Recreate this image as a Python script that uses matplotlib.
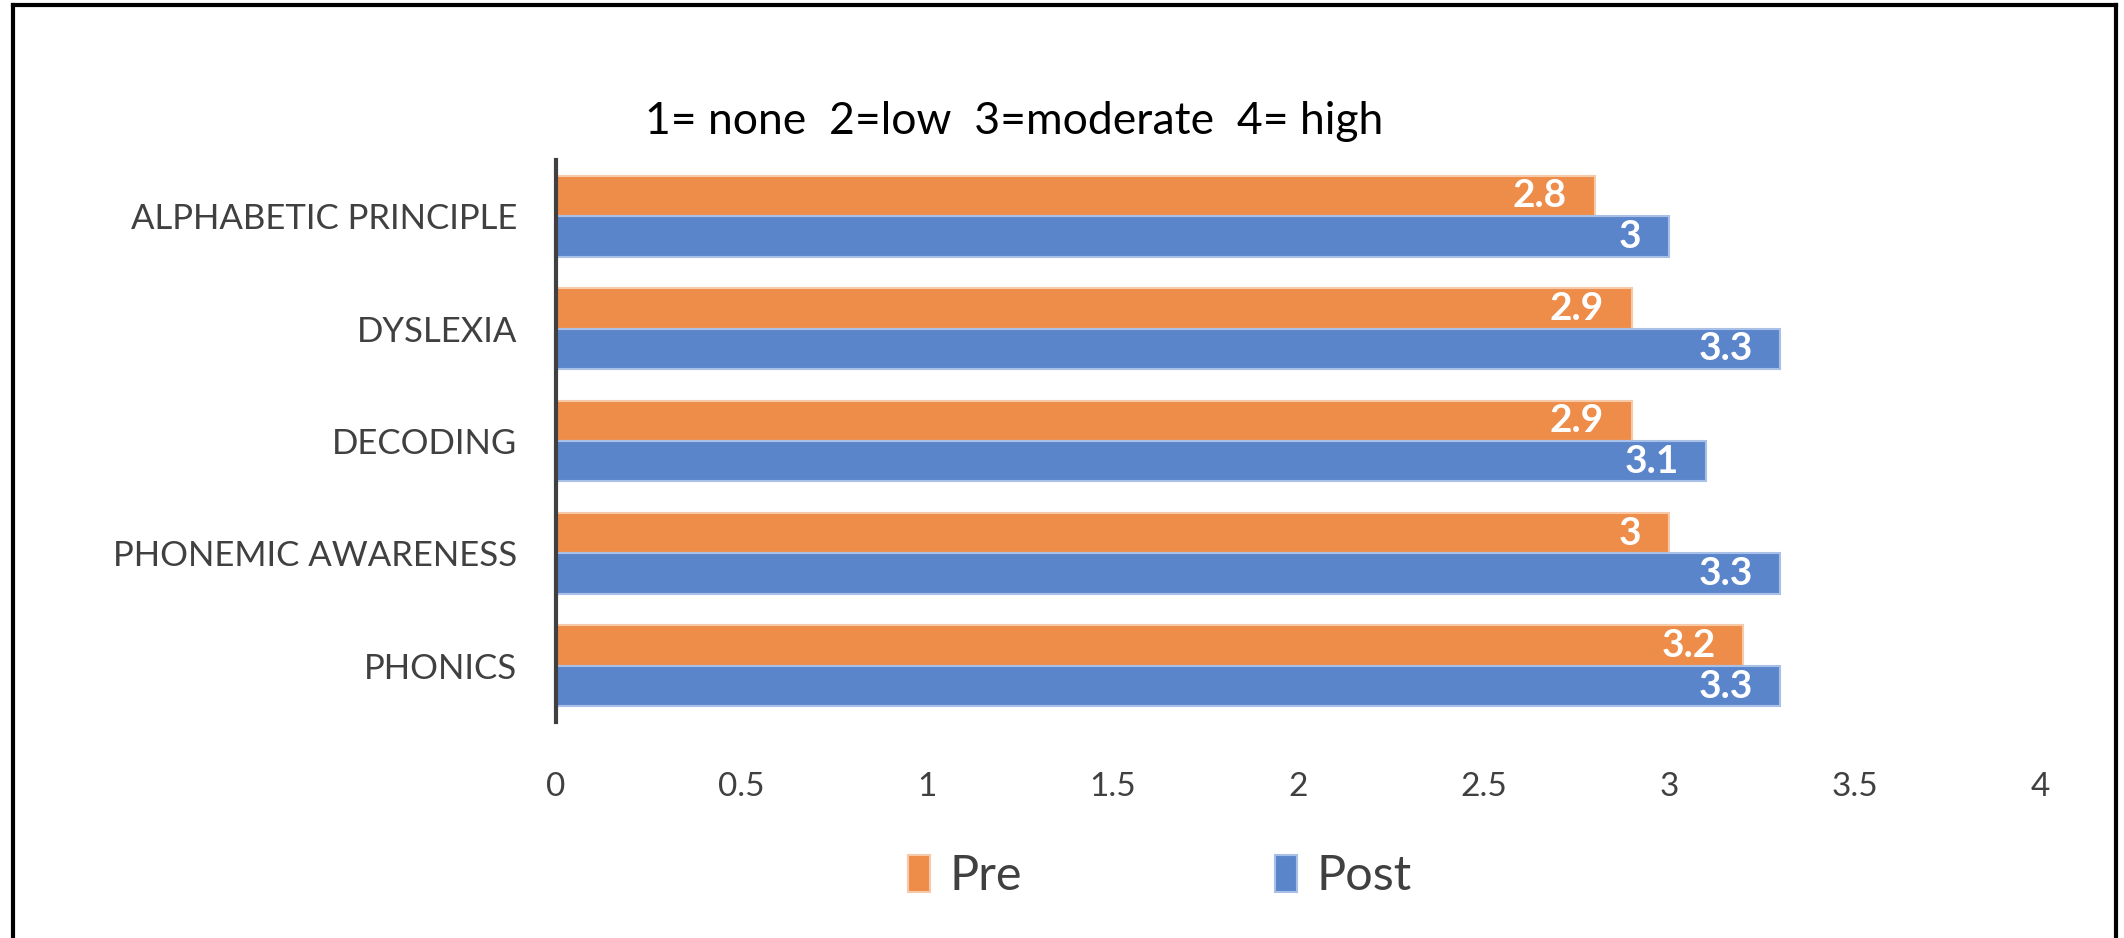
import matplotlib.pyplot as plt
import numpy as np
from matplotlib.lines import Line2D

plt.rcParams['font.family'] = ['Lato', 'DejaVu Sans']

categories = ['PHONICS', 'PHONEMIC AWARENESS', 'DECODING', 'DYSLEXIA', 'ALPHABETIC PRINCIPLE']
pre = [3.2, 3.0, 2.9, 2.9, 2.8]
post = [3.3, 3.3, 3.1, 3.3, 3.0]
xticks = [0, 0.5, 1, 1.5, 2, 2.5, 3, 3.5, 4]
xtick_labels = ['0', '0.5', '1', '1.5', '2', '2.5', '3', '3.5', '4']
subtitle = '1= none  2=low  3=moderate  4= high'

orange = '#EE8D4A'
blue = '#5B85CB'
text_col = '#404040'

fig = plt.figure(figsize=(21.24, 9.38), dpi=100)
ax = fig.add_axes([0.2618, 0.2303, 0.6987, 0.5991])

y = np.arange(len(categories))
h = 0.36
b1 = ax.barh(y + h / 2, pre, height=h, color=orange, edgecolor='#F6C9A8', linewidth=1.5, label='Pre')
b2 = ax.barh(y - h / 2, post, height=h, color=blue, edgecolor='#A9C0E6', linewidth=1.5, label='Post')

for bars in (b1, b2):
    ax.bar_label(bars, labels=[f'{v:g}' for v in bars.datavalues], padding=-20,
                 label_type='edge', color='white', fontsize=28, fontweight='bold')
# labels sit inside the bar end
for t in ax.texts:
    t.set_horizontalalignment('right')
    t.set_verticalalignment('center')

ax.set_xlim(0, 4)
ax.set_ylim(-0.5, len(categories) - 0.5)
ax.set_xticks(xticks)
ax.set_xticklabels(xtick_labels)
ax.set_yticks(y)
ax.set_yticklabels(categories)
ax.tick_params(axis='x', length=0, pad=36, labelsize=24, labelcolor=text_col)
ax.tick_params(axis='y', length=0, pad=28, labelsize=25, labelcolor=text_col)
for s in ['top', 'right', 'bottom']:
    ax.spines[s].set_visible(False)
ax.spines['left'].set_color('#404040')
ax.spines['left'].set_linewidth(3)

fig.text(0.4775, 0.870, subtitle, ha='center', va='center', fontsize=32, color='black')

fig.legend(handles=[b1, b2], labels=['Pre', 'Post'], loc='center', bbox_to_anchor=(0.546, 0.066),
           ncol=2, frameon=False, fontsize=35, handlelength=0.45, handleheight=0.8,
           handletextpad=0.4, columnspacing=5.2, labelcolor=text_col)

# frame around the picture (bottom edge is cut off)
lw = 3
fig.add_artist(Line2D([0.0061, 0.0061], [0.0, 0.9947], color='black', linewidth=lw, transform=fig.transFigure))
fig.add_artist(Line2D([0.0061, 0.9963], [0.9947, 0.9947], color='black', linewidth=lw, transform=fig.transFigure))
fig.add_artist(Line2D([0.9963, 0.9963], [0.0, 0.9947], color='black', linewidth=lw, transform=fig.transFigure))

fig.savefig('out.png', dpi=100)
